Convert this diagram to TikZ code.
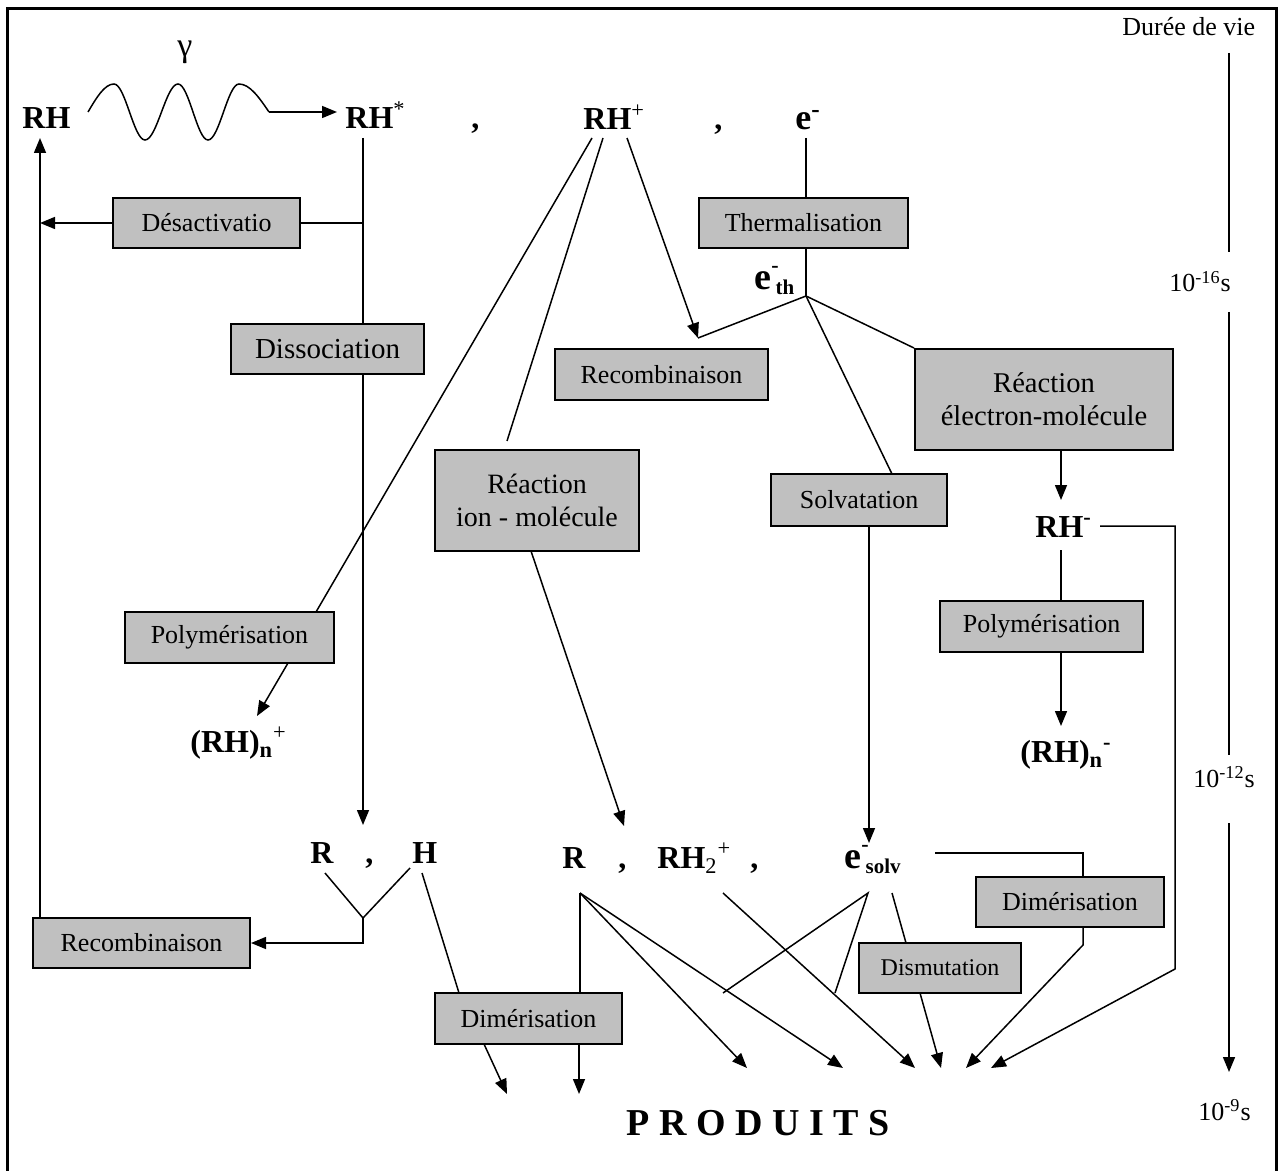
\documentclass[tikz,border=0pt]{standalone}
\usepackage{fontspec}
\setmainfont{Liberation Serif}
\usetikzlibrary{arrows.meta}
\definecolor{boxgray}{HTML}{C0C0C0}
\newcommand\supr[1]{\textsuperscript{\mdseries #1}}
\newcommand\elabel[1]{e\raisebox{8.5pt}{\fontsize{11}{11}\selectfont -}\kern-1.5pt\raisebox{-2.5pt}{\fontsize{10.5}{10.5}\selectfont #1}}
\tikzset{
  lw/.style={line width=0.75pt},
  arr/.style={-{Triangle[length=7.5pt,width=6pt]}},
  procbox/.style={draw, fill=boxgray, line width=1pt, inner sep=0pt, align=center, font=\fontsize{13}{15.6}\selectfont},
  bx/.style 2 args={minimum width=#1*0.5pt, minimum height=#2*0.5pt},
  spc/.style={font=\fontsize{16}{19}\selectfont\bfseries, inner sep=0pt, anchor=base west},
  tl/.style={font=\fontsize{13}{15}\selectfont, inner sep=0pt, anchor=base west},
}
\begin{document}
\begin{tikzpicture}[x=0.5pt,y=-0.5pt]
\useasboundingbox (0,0) rectangle (1278,1171);
% frame
\draw[line width=1.5pt] (7.5,1171) -- (7.5,8.5) -- (1276.5,8.5) -- (1276.5,1171);

% species labels
\node[spc] (rh) at (22,129) {RH};
\node[font=\fontsize{17}{17}\selectfont, inner sep=0pt] (gam) at (185,52) {γ};
\node[spc] (rhs) at (345,129) {RH\supr{*}};
\node[spc] (cm1) at (471,129) {,};
\node[spc] (rhp) at (583,130) {RH\supr{+}};
\node[spc] (cm2) at (714,130) {,};
\node[spc, font=\fontsize{18}{18}\selectfont\bfseries] (em) at (795,130) {e\textsuperscript{-}};
\node[spc, font=\fontsize{19}{19}\selectfont\bfseries] (eth) at (754,290) {\elabel{th}};
\node[spc] (rhm) at (1035,537) {RH\textsuperscript{-}};
\node[spc] (rhnp) at (190,752) {(RH)\textsubscript{n}\supr{+}};
\node[spc] (rhnm) at (1020,762) {(RH)\textsubscript{n}\textsuperscript{-}};
\node[spc] (r1) at (310,863) {R};
\node[spc] (cm3) at (365,863) {,};
\node[spc] (h1) at (412,863) {H};
\node[spc] (r2) at (562,868) {R};
\node[spc] (cm4) at (618,868) {,};
\node[spc] (rh2) at (657,868) {RH\textsubscript{\mdseries 2}\supr{+}};
\node[spc] (cm5) at (750,868) {,};
\node[spc, font=\fontsize{19}{19}\selectfont\bfseries] (esolv) at (844,868) {\elabel{solv}};
\node[font=\fontsize{19}{19}\selectfont\bfseries, inner sep=0pt] (prod) at (758,1123) {P R O D U I T S};

% time axis labels
\node[tl] (dv) at (1122,36) {Durée de vie};
\node[tl] (t16) at (1169,292) {10\textsuperscript{-16}s};
\node[tl] (t12) at (1193,787) {10\textsuperscript{-12}s};
\node[tl] (t9) at (1198,1120) {10\textsuperscript{-9}s};

% process boxes
\node[procbox, bx={187}{50}] (desact) at (206.5,223) {Désactivatio};
\node[procbox, bx={193}{50}, font=\fontsize{14.5}{17}\selectfont] (dissoc) at (327.5,349) {Dissociation};
\node[procbox, bx={209}{50}] (therm) at (803.5,223) {Thermalisation};
\node[procbox, bx={213}{51}] (recm) at (661.5,374.5) {Recombinaison};
\node[procbox, bx={258}{101}, font=\fontsize{14.3}{16.5}\selectfont] (rem) at (1044,399.5) {Réaction\\électron-molécule};
\node[procbox, bx={204}{101}, font=\fontsize{14}{16.5}\selectfont] (rim) at (537,500.5) {Réaction\\ion - molécule};
\node[procbox, bx={176}{52}] (solv) at (859,500) {Solvatation};
\node[procbox, bx={209}{51}] (polyl) at (229.5,637.5) {Polymérisation};
\node[procbox, bx={203}{51}] (polyr) at (1041.5,626.5) {Polymérisation};
\node[procbox, bx={217}{50}] (recl) at (141.5,943) {Recombinaison};
\node[procbox, bx={187}{51}] (diml) at (528.5,1018.5) {Dimérisation};
\node[procbox, bx={188}{50}] (dimr) at (1070,902) {Dimérisation};
\node[procbox, bx={162}{50}, font=\fontsize{12}{14}\selectfont] (dism) at (940,968) {Dismutation};

% gamma wave
\coordinate (w0) at (88,112);
\coordinate (w1) at (269,112);
\coordinate (w2) at (337,112);
\draw[lw] (w0) sin (114,84) cos (129.5,112) sin (145,140) cos (161.5,112) sin (178,84) cos (193,112) sin (208,140) cos (223.5,112) sin (239,84) cos (w1);
\draw[lw,arr] (w1) -- (w2);

% RH* column
\coordinate (b0) at (363,138);
\coordinate (j1) at (363,223);
\coordinate (b2) at (363,825);
\coordinate (c2) at (40,138);
\draw[lw] (b0) -- (b0 |- dissoc.north);
\draw[lw] (desact.east) -- (j1);
\draw[lw,arr] (desact.west) -- (desact.west -| c2);
\draw[lw,arr] (c2 |- recl.north) -- (c2);
\draw[lw,arr] (b0 |- dissoc.south) -- (b2);

% R , H recombination
\coordinate (e1) at (325,873);
\coordinate (e2) at (410,868);
\coordinate (v) at (363,918);
\coordinate (v2) at (363,943);
\draw[lw] (e1) -- (v) -- (e2);
\draw[lw,arr] (v) -- (v2) -- (recl.east);

% H to dimerisation
\coordinate (f1) at (422,873);
\coordinate (f2) at (459,993);
\draw[lw] (f1) -- (f2);
\coordinate (g1) at (484,1044);
\coordinate (g2) at (507,1094);
\coordinate (g3) at (579,1094);
\draw[lw,arr] (g1) -- (g2);
\draw[lw,arr] (g3 |- diml.south) -- (g3);

% product arrows
\coordinate (r0) at (580,893);
\coordinate (p1) at (747,1068);
\coordinate (p2) at (843,1068);
\coordinate (p3) at (915,1068);
\coordinate (p4) at (941,1068);
\coordinate (p5) at (966,1068);
\coordinate (p6) at (991,1068);
\draw[lw] (r0) -- (r0 |- diml.north);
\draw[lw,arr] (r0) -- (p1);
\draw[lw,arr] (r0) -- (p2);
\coordinate (q0) at (723,893);
\draw[lw,arr] (q0) -- (p3);
\coordinate (s0) at (868,893);
\coordinate (s1) at (723,993);
\coordinate (s2) at (835,993);
\draw[lw] (s1) -- (s0) -- (s2);
\coordinate (s3) at (892,893);
\coordinate (s4) at (906,943);
\draw[lw] (s3) -- (s4);
\coordinate (s5) at (920,993);
\draw[lw,arr] (s5) -- (p4);
\coordinate (t1) at (935,853);
\coordinate (t2) at (1083,853);
\coordinate (t3) at (1083,945);
\draw[lw] (t1) -- (t2) -- (t2 |- dimr.north);
\draw[lw,arr] (t2 |- dimr.south) -- (t3) -- (p5);
\coordinate (u1) at (1100,526);
\coordinate (u2) at (1175,526);
\coordinate (u3) at (1175,969);
\draw[lw,arr] (u1) -- (u2) -- (u3) -- (p6);

% RH- column
\coordinate (x1) at (1061,500);
\coordinate (x2) at (1061,550);
\coordinate (x3) at (1061,726);
\draw[lw,arr] (x1 |- rem.south) -- (x1);
\draw[lw] (x2) -- (x2 |- polyr.north);
\draw[lw,arr] (x2 |- polyr.south) -- (x3);

% polymerisation left
\coordinate (y1) at (288,663);
\coordinate (y2) at (257,716);
\draw[lw,arr] (y1) -- (y2);

% RH+ lines
\coordinate (k1) at (592,138);
\coordinate (k2) at (316,612);
\coordinate (k3) at (603,138);
\coordinate (k4) at (507,441);
\coordinate (k5) at (627,138);
\coordinate (k6) at (698,338);
\draw[lw] (k1) -- (k2);
\draw[lw] (k3) -- (k4);
\draw[lw,arr] (k5) -- (k6);

% e- column
\coordinate (m0) at (806,138);
\coordinate (jk) at (806,296);
\coordinate (n1) at (892,474);
\draw[lw] (m0) -- (m0 |- therm.north);
\draw[lw] (m0 |- therm.south) -- (jk);
\draw[lw] (jk) -- (k6);
\draw[lw] (jk) -- (n1);
\draw[lw] (jk) -- (rem.north west);

% ion-molecule arrow
\coordinate (o1) at (531,551);
\coordinate (o2) at (624,826);
\draw[lw,arr] (o1) -- (o2);

% solvatation arrow
\coordinate (z1) at (869,843);
\draw[lw,arr] (z1 |- solv.south) -- (z1);

% time axis
\coordinate (ta) at (1229,53);
\coordinate (tb) at (1229,252);
\coordinate (tc) at (1229,312);
\coordinate (td) at (1229,755);
\coordinate (te) at (1229,823);
\coordinate (tf) at (1229,1072);
\draw[lw] (ta) -- (tb);
\draw[lw] (tc) -- (td);
\draw[lw,arr] (te) -- (tf);
\end{tikzpicture}
\end{document}
